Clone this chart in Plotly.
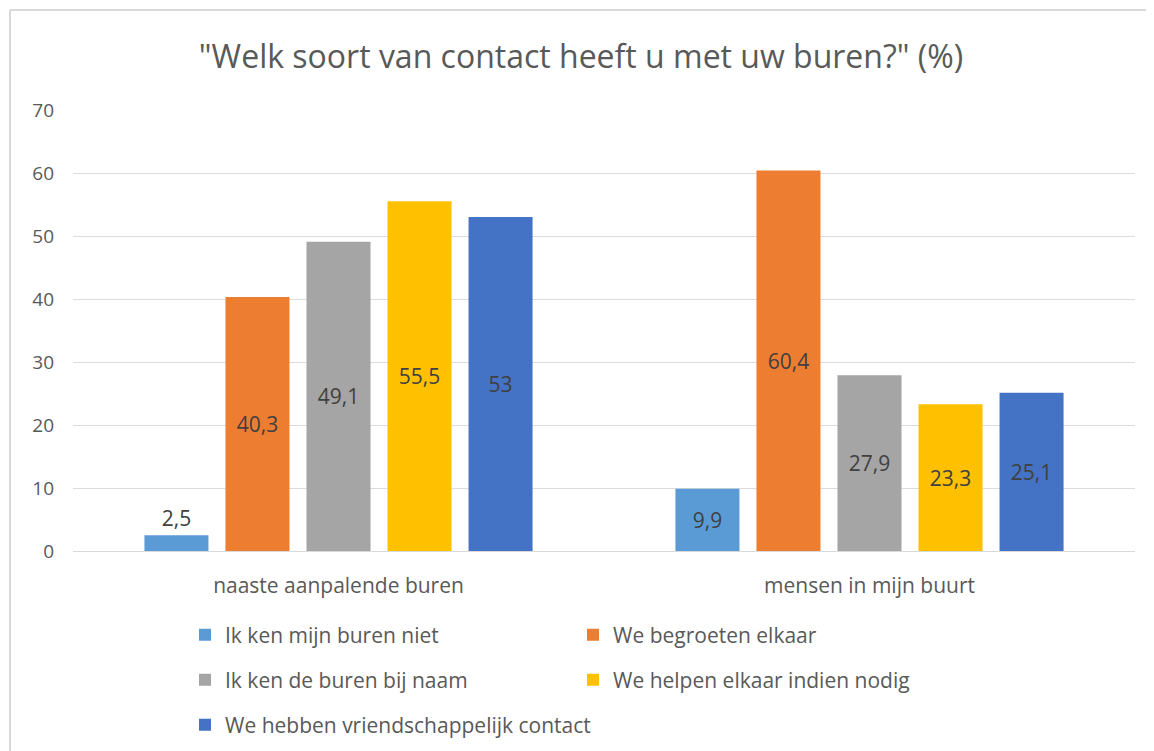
import plotly.graph_objects as go

categories = ["naaste aanpalende buren", "mensen in mijn buurt"]
series_names = [
    "Ik ken mijn buren niet",
    "We begroeten elkaar",
    "Ik ken de buren bij naam",
    "We helpen elkaar indien nodig",
    "We hebben vriendschappelijk contact",
]
ken_niet = [2.5, 9.9]
begroeten = [40.3, 60.4]
bij_naam = [49.1, 27.9]
helpen = [55.5, 23.3]
vriendschappelijk = [53, 25.1]
y_ticks = [0, 10, 20, 30, 40, 50, 60, 70]

colors = ["#5B9BD5", "#ED7D31", "#A5A5A5", "#FFC000", "#4472C4"]
all_values = [ken_niet, begroeten, bij_naam, helpen, vriendschappelijk]
legend_ids = ["legend", "legend", "legend2", "legend2", "legend3"]

FONT = "Open Sans"
OFF = 8  # page body margin

def fmt(v):
    return f"{v:g}".replace(".", ",")

fig = go.Figure()
for name, vals, col, lg in zip(series_names, all_values, colors, legend_ids):
    positions = ["outside" if v < 5 else "inside" for v in vals]
    fig.add_trace(go.Bar(
        name=name, x=categories, y=vals, legend=lg,
        marker=dict(color=col, line=dict(width=0)),
        text=[fmt(v) for v in vals],
        textposition=positions,
        insidetextanchor="middle",
        textfont=dict(family=FONT, size=21, color="#404040"),
        outsidetextfont=dict(family=FONT, size=21, color="#404040"),
        insidetextfont=dict(family=FONT, size=21, color="#404040"),
        cliponaxis=False,
    ))

# target window coordinates of the plot area
L, R, T, B = 73, 1135, 110, 551
W, H = 1154 - OFF, 751 - OFF
pw, ph = R - L, B - T

def px_x(x):
    return (x - L) / pw

def px_y(y):
    return (B - y) / ph

leg_font = dict(family=FONT, size=21, color="#595959")
leg_common = dict(orientation="h", xanchor="left", yanchor="middle",
                  font=leg_font, traceorder="normal", bgcolor="rgba(0,0,0,0)")

fig.update_layout(
    width=W, height=H,
    margin=dict(l=L - OFF, r=W - (R - OFF), t=T - OFF, b=H - (B - OFF), autoexpand=False),
    paper_bgcolor="white", plot_bgcolor="white",
    barmode="group", bargap=0.237, bargroupgap=0.21,
    title=dict(text='"Welk soort van contact heeft u met uw buren?" (%)',
               x=0.5, xanchor="center", y=1 - (57 - OFF) / H, yanchor="middle",
               font=dict(family=FONT, size=32, color="#595959")),
    font=dict(family=FONT, color="#595959"),
    showlegend=True,
    legend=dict(x=px_x(185), y=px_y(635), entrywidth=343, entrywidthmode="pixels", **leg_common),
    legend2=dict(x=px_x(185), y=px_y(680), entrywidth=343, entrywidthmode="pixels", **leg_common),
    legend3=dict(x=px_x(185), y=px_y(725), **leg_common),
    shapes=[
        dict(type="line", xref="paper", yref="paper",
             x0=px_x(10), x1=px_x(1154), y0=px_y(10), y1=px_y(10),
             line=dict(color="#D9D9D9", width=2)),
        dict(type="line", xref="paper", yref="paper",
             x0=px_x(10), x1=px_x(10), y0=px_y(10), y1=px_y(751),
             line=dict(color="#D9D9D9", width=2)),
    ],
)
fig.update_yaxes(range=[0, 70], tickvals=y_ticks, showgrid=True,
                 gridcolor="#DCDCDC", gridwidth=1, zeroline=False,
                 showline=False, ticks="", ticklabelstandoff=18,
                 tickfont=dict(family=FONT, size=19, color="#595959"))
fig.update_xaxes(showline=True, linecolor="#D9D9D9", linewidth=1, ticks="",
                 ticklabelstandoff=16,
                 tickfont=dict(family=FONT, size=21, color="#595959"))

fig.write_html("out.html")
